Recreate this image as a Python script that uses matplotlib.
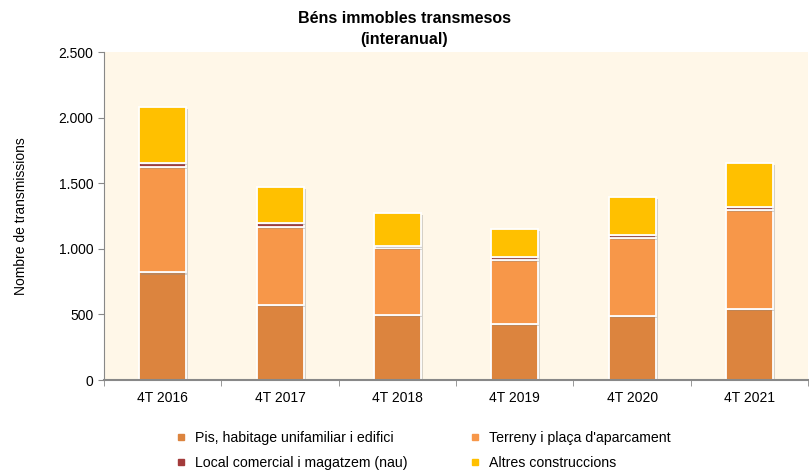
import matplotlib.pyplot as plt
import matplotlib.patheffects as pe
from matplotlib.lines import Line2D
from matplotlib.ticker import FuncFormatter
import numpy as np

plt.rcParams['font.family'] = ['Liberation Sans', 'DejaVu Sans']

periods = ['4T 2016', '4T 2017', '4T 2018', '4T 2019', '4T 2020', '4T 2021']
pis = [820, 573, 498, 424, 488, 539]
terreny = [805, 597, 511, 491, 594, 757]
local = [26, 24, 12, 25, 21, 25]
altres = [431, 279, 249, 213, 294, 330]

series = [
    ('Pis, habitage unifamiliar i edifici', pis, '#DC843E'),
    ('Terreny i plaça d\'aparcament', terreny, '#F79749'),
    ('Local comercial i magatzem (nau)', local, '#A33B3B'),
    ('Altres construccions', altres, '#FFC000'),
]

fig = plt.figure(figsize=(8.09, 4.73), dpi=100)
ax = fig.add_axes([0.1286, 0.1966, 0.8704, 0.6934])
ax.set_facecolor('#FFF7E8')

x = np.arange(len(periods))
bottom = np.zeros(len(periods))
shadow = [pe.SimplePatchShadow(offset=(1.5, -1.5), shadow_rgbFace='#888888', alpha=0.35), pe.Normal()]
for name, vals, col in series:
    ax.bar(x, vals, width=0.4, bottom=bottom, color=col, edgecolor='white',
           linewidth=1.3, path_effects=shadow, zorder=2)
    bottom += np.array(vals)

ax.set_xlim(-0.5, len(periods) - 0.5)
ax.set_ylim(0, 2500)
ax.set_yticks(range(0, 2501, 500))
ax.yaxis.set_major_formatter(FuncFormatter(lambda v, p: f'{int(v):,}'.replace(',', '.')))
ax.set_xticks(x)
ax.set_xticklabels(periods, fontsize=10)
ax.set_xticks(np.arange(-0.5, len(periods), 1), minor=True)
ax.tick_params(axis='x', which='major', length=0, pad=8)
ax.tick_params(axis='x', which='minor', length=4, color='#888888', direction='out')
ax.tick_params(axis='y', labelsize=10, length=4, color='#888888', direction='out')

for s in ['top', 'right']:
    ax.spines[s].set_visible(False)
ax.spines['left'].set_color('#888888')
ax.spines['bottom'].set_color('#888888')
ax.spines['bottom'].set_linewidth(1.5)

ax.set_ylabel('Nombre de transmissions', fontsize=10, labelpad=22)
fig.text(0.5, 0.938, 'Béns immobles transmesos\n(interanual)', ha='center', va='center',
         fontsize=11.5, fontweight='bold', linespacing=1.5)

handles = [Line2D([], [], marker='s', linestyle='none', markersize=4,
                  markerfacecolor=c, markeredgecolor=c) for _, _, c in series]
labels = [n for n, _, _ in series]
order = [0, 2, 1, 3]
fig.legend([handles[i] for i in order], [labels[i] for i in order], ncol=2,
           loc='center', bbox_to_anchor=(0.522, 0.047), frameon=False, fontsize=10.2,
           handlelength=1.0, handletextpad=0.55, columnspacing=4.2, labelspacing=0.75)

fig.savefig('out.png', dpi=100)
